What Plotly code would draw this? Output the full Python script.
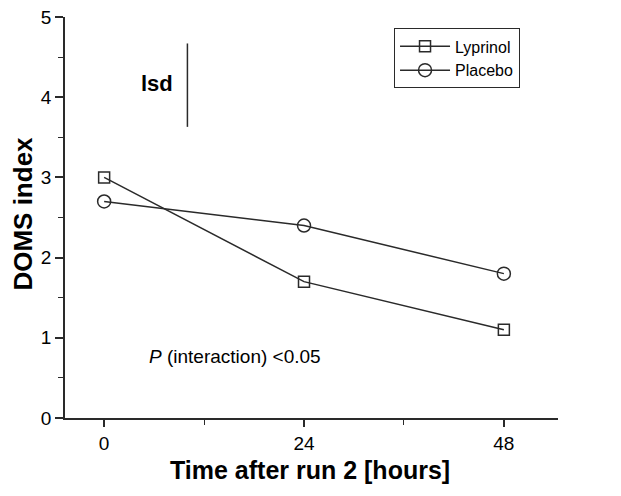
import plotly.graph_objects as go

hours = [0, 24, 48]
lyprinol = [3.0, 1.7, 1.1]
placebo = [2.7, 2.4, 1.8]
lsd_x = [10, 10]
lsd_y = [3.63, 4.67]
x_ticks = [0, 24, 48]
y_ticks = [0, 1, 2, 3, 4, 5]

col = "#2a2a2a"
fig = go.Figure()
fig.add_trace(go.Scatter(x=hours, y=lyprinol, name="Lyprinol", mode="lines+markers",
                         line=dict(color=col, width=1.5),
                         marker=dict(symbol="square-open", size=11, color=col, line=dict(width=1.5))))
fig.add_trace(go.Scatter(x=hours, y=placebo, name="Placebo", mode="lines+markers",
                         line=dict(color=col, width=1.5),
                         marker=dict(symbol="circle-open", size=13, color=col, line=dict(width=1.5))))
fig.add_trace(go.Scatter(x=lsd_x, y=lsd_y, mode="lines", showlegend=False,
                         line=dict(color=col, width=1.5), hoverinfo="skip"))

fig.add_annotation(x=lsd_x[0], y=4.17, text="<b>lsd</b>", showarrow=False,
                   xanchor="right", xshift=-12, font=dict(size=22, color="black"))
fig.add_annotation(x=5.2, y=0.77, text="<i>P</i> (interaction) <0.05", showarrow=False,
                   xanchor="left", font=dict(size=19, color="black"))
fig.add_annotation(xref="paper", yref="paper", x=-0.085, y=0.51, text="<b>DOMS index</b>",
                   textangle=-90, showarrow=False, xanchor="center", yanchor="middle",
                   font=dict(size=26, color="black"))
fig.add_annotation(xref="paper", yref="paper", x=0.497, y=-0.13, text="<b>Time after run 2 [hours]</b>",
                   showarrow=False, xanchor="center", yanchor="middle",
                   font=dict(size=25, color="black"))

font = "Liberation Sans, Arial, sans-serif"
fig.update_layout(
    width=613, height=488,
    margin=dict(l=57, r=63, t=9, b=78),
    plot_bgcolor="white", paper_bgcolor="white",
    font=dict(family=font, size=19, color="black"),
    legend=dict(x=0.667, y=0.972, xanchor="left", yanchor="top",
                bordercolor=col, borderwidth=1.2, bgcolor="white",
                font=dict(size=16), tracegroupgap=0, itemwidth=50),
    xaxis=dict(range=[-4.7, 54.5], tickvals=x_ticks, showline=True, linecolor=col, linewidth=1.5,
               ticks="outside", ticklen=7, tickcolor=col, tickwidth=1.5, automargin=False,
               ticklabeloverflow="allow",
               minor=dict(tickvals=[12, 36], ticks="outside", ticklen=5, tickcolor=col, tickwidth=1.2),
               showgrid=False, zeroline=False),
    yaxis=dict(range=[0, 5], tickvals=y_ticks, showline=True, linecolor=col, linewidth=1.5,
               ticks="outside", ticklen=8, tickcolor=col, tickwidth=1.5, automargin=False,
               ticklabeloverflow="allow",
               minor=dict(tickvals=[0.5, 1.5, 2.5, 3.5, 4.5], ticks="outside", ticklen=5, tickcolor=col, tickwidth=1.2),
               showgrid=False, zeroline=False),
)
fig.write_html("out.html")
